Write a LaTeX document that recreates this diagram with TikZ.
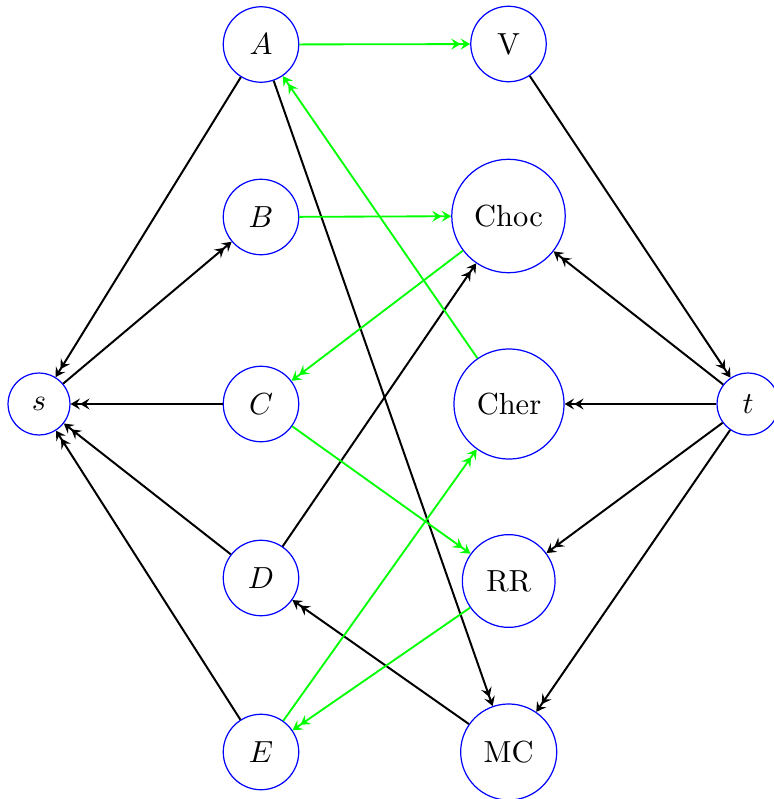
\documentclass[tikz,border=0pt]{standalone}
\usetikzlibrary{arrows.meta}
\begin{document}
\begin{tikzpicture}[x=0.3279pt,y=-0.3279pt,
  vtx/.style={circle,draw=blue,line width=0.4pt,inner sep=0pt},
  small/.style={vtx,minimum size=20.3pt},
  mid/.style={vtx,minimum size=24.75pt},
  tipd/.style={-{Stealth[length=3.1pt,width=3.6pt,inset=1.2pt]Stealth[length=3.1pt,width=3.6pt,inset=1.2pt]}},
  blk/.style={draw=black,line width=0.65pt,tipd},
  grn/.style={draw=green,line width=0.6pt,tipd}]
\useasboundingbox (0,0) rectangle (774,799);
\node[small] (s) at (39,404) {$s$};
\node[small] (t) at (748,404) {$t$};
\node[mid] (A) at (261,44.5) {$A$};
\node[mid] (B) at (261,217) {$B$};
\node[mid] (C) at (261,404) {$C$};
\node[mid] (D) at (261,578) {$D$};
\node[mid] (E) at (261,752) {$E$};
\node[mid] (V) at (508.5,44) {V};
\node[vtx,minimum size=37.2pt] (Choc) at (508.5,216) {Choc};
\node[vtx,minimum size=36.1pt] (Cher) at (509,404) {Cher};
\node[vtx,minimum size=30.4pt] (RR) at (508.7,581) {RR};
\node[vtx,minimum size=31.5pt] (MC) at (508.7,752) {MC};
% black
\draw[blk] (A) -- (s);
\draw[blk] (s) -- (B);
\draw[blk] (C) -- (s);
\draw[blk] (D) -- (s);
\draw[blk] (E) -- (s);
\draw[blk] (A) -- (MC);
\draw[blk] (D) -- (Choc);
\draw[blk] (V) -- (t);
\draw[blk] (t) -- (Choc);
\draw[blk] (t) -- (Cher);
\draw[blk] (t) -- (RR);
\draw[blk] (t) -- (MC);
\draw[blk] (MC) -- (D);
% green
\draw[grn] (A) -- (V);
\draw[grn] (B) -- (Choc);
\draw[grn] (Choc) -- (C);
\draw[grn] (Cher) -- (A);
\draw[grn] (C) -- (RR);
\draw[grn] (E) -- (Cher);
\draw[grn] (RR) -- (E);
\end{tikzpicture}
\end{document}
